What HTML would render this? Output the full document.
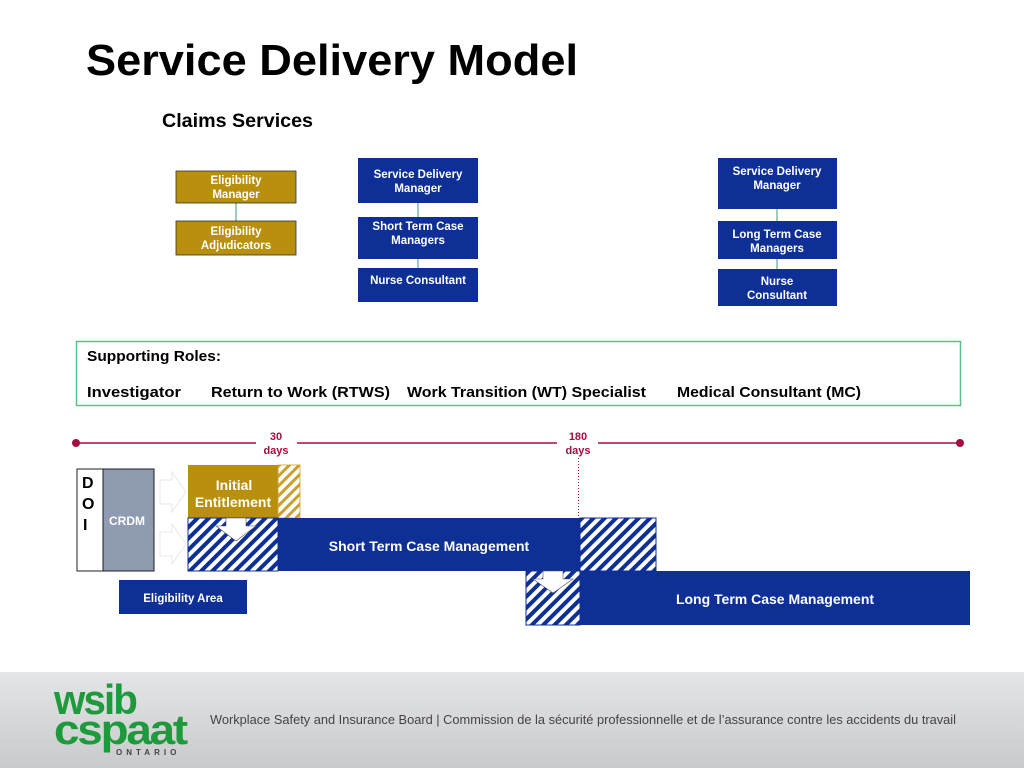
<!DOCTYPE html>
<html><head><meta charset="utf-8"><style>
html,body{margin:0;padding:0;background:#fff;}
svg{display:block;}
text{font-family:"Liberation Sans",sans-serif;}
</style></head><body>
<svg width="1024" height="768" viewBox="0 0 1024 768" xmlns="http://www.w3.org/2000/svg">
<defs>
<pattern id="hb" patternUnits="userSpaceOnUse" width="8" height="8" patternTransform="rotate(45)">
<rect width="8" height="8" fill="#fff"/><rect width="4" height="8" fill="#0d2f96"/>
</pattern>
<pattern id="hg" patternUnits="userSpaceOnUse" width="7" height="7" patternTransform="rotate(45)">
<rect width="7" height="7" fill="#fff"/><rect width="3" height="7" fill="#c9a030"/>
</pattern>
<linearGradient id="ft" x1="0" y1="0" x2="0" y2="1">
<stop offset="0" stop-color="#e4e5e7"/><stop offset="1" stop-color="#c9cacc"/>
</linearGradient>
</defs>
<text x="86" y="75" font-size="44" font-weight="bold" fill="#000" textLength="492" lengthAdjust="spacingAndGlyphs">Service Delivery Model</text>
<text x="162" y="127" font-size="19" font-weight="bold" fill="#000" textLength="151" lengthAdjust="spacingAndGlyphs">Claims Services</text>

<g font-size="11.5" font-weight="bold" fill="#fff" text-anchor="middle">
<line x1="236" y1="203" x2="236" y2="221" stroke="#3a9a7a"/>
<rect x="176" y="171" width="120" height="32" fill="#b8900e" stroke="#333" stroke-width="0.8"/>
<text x="236" y="184">Eligibility</text><text x="236" y="198">Manager</text>
<rect x="176" y="221" width="120" height="34" fill="#b8900e" stroke="#333" stroke-width="0.8"/>
<text x="236" y="235">Eligibility</text><text x="236" y="249">Adjudicators</text>

<line x1="418" y1="203" x2="418" y2="268" stroke="#3a9a7a"/>
<rect x="358" y="158" width="120" height="45" fill="#0d2f96"/>
<text x="418" y="178">Service Delivery</text><text x="418" y="192">Manager</text>
<rect x="358" y="217" width="120" height="42" fill="#0d2f96"/>
<text x="418" y="230">Short Term Case</text><text x="418" y="244">Managers</text>
<rect x="358" y="268" width="120" height="34" fill="#0d2f96"/>
<text x="418" y="284">Nurse Consultant</text>

<line x1="777" y1="209" x2="777" y2="269" stroke="#3a9a7a"/>
<rect x="718" y="158" width="119" height="51" fill="#0d2f96"/>
<text x="777" y="175">Service Delivery</text><text x="777" y="189">Manager</text>
<rect x="718" y="221" width="119" height="38" fill="#0d2f96"/>
<text x="777" y="238">Long Term Case</text><text x="777" y="252">Managers</text>
<rect x="718" y="269" width="119" height="37" fill="#0d2f96"/>
<text x="777" y="285">Nurse</text><text x="777" y="299">Consultant</text>
</g>

<rect x="76.5" y="341.5" width="884" height="64" fill="#fff" stroke="#5cc08a" stroke-width="1.5"/>
<g font-size="15" font-weight="bold" fill="#000">
<text x="87" y="361" textLength="134" lengthAdjust="spacingAndGlyphs">Supporting Roles:</text>
<text x="87" y="397" textLength="94" lengthAdjust="spacingAndGlyphs">Investigator</text>
<text x="211" y="397" textLength="179" lengthAdjust="spacingAndGlyphs">Return to Work (RTWS)</text>
<text x="407" y="397" textLength="239" lengthAdjust="spacingAndGlyphs">Work Transition (WT) Specialist</text>
<text x="677" y="397" textLength="184" lengthAdjust="spacingAndGlyphs">Medical Consultant (MC)</text>
</g>

<g stroke="#a01040" stroke-width="1.5">
<line x1="76" y1="443" x2="256" y2="443"/>
<line x1="297" y1="443" x2="557" y2="443"/>
<line x1="598" y1="443" x2="960" y2="443"/>
</g>
<circle cx="76" cy="443" r="4" fill="#a01040"/>
<circle cx="960" cy="443" r="4" fill="#a01040"/>
<g font-size="11" font-weight="bold" fill="#a01040" text-anchor="middle">
<text x="276" y="440">30</text><text x="276" y="454">days</text>
<text x="578" y="440">180</text><text x="578" y="454">days</text>
</g>
<line x1="578.5" y1="458" x2="578.5" y2="518" stroke="#a01040" stroke-dasharray="1,2"/>

<rect x="77" y="469" width="26" height="102" fill="#fff" stroke="#222"/>
<rect x="103" y="469" width="51" height="102" fill="#8e9bb0" stroke="#222"/>
<g font-size="16" font-weight="bold" fill="#000"><text x="82" y="488">D</text><text x="82" y="509">O</text><text x="83" y="530">I</text></g>
<text x="109" y="525" font-size="12" font-weight="bold" fill="#fff">CRDM</text>

<g fill="none" stroke="#e8e8e8" stroke-width="1">
<path d="M160 480 L172 480 L172 472 L186 492 L172 512 L172 504 L160 504 Z"/>
<path d="M160 532 L172 532 L172 524 L186 544 L172 564 L172 556 L160 556 Z"/>
</g>

<rect x="188" y="465" width="90" height="53" fill="#b8900e"/>
<rect x="278" y="465" width="22" height="53" fill="url(#hg)" stroke="#c9a030" stroke-width="0.8"/>
<g font-size="14" font-weight="bold" fill="#fff" text-anchor="middle"><text x="234" y="490">Initial</text><text x="233" y="507">Entitlement</text></g>

<rect x="188" y="518" width="90" height="53" fill="url(#hb)" stroke="#0d2f96"/>
<rect x="278" y="518" width="302" height="53" fill="#0d2f96"/>
<rect x="580" y="518" width="76" height="53" fill="url(#hb)" stroke="#0d2f96"/>
<text x="429" y="551" font-size="14" font-weight="bold" fill="#fff" text-anchor="middle">Short Term Case Management</text>
<path d="M226 518 L246 518 L246 526 L256 526 L236 541 L216 526 L226 526 Z" fill="#fff" stroke="#555" stroke-width="0.6"/>

<rect x="119" y="580" width="128" height="34" fill="#0d2f96"/>
<text x="183" y="602" font-size="11.5" font-weight="bold" fill="#fff" text-anchor="middle">Eligibility Area</text>

<rect x="526" y="571" width="54" height="54" fill="url(#hb)" stroke="#0d2f96"/>
<rect x="580" y="571" width="390" height="54" fill="#0d2f96"/>
<text x="775" y="604" font-size="14" font-weight="bold" fill="#fff" text-anchor="middle">Long Term Case Management</text>
<path d="M543 571 L563 571 L563 579 L573 579 L553 593 L533 579 L543 579 Z" fill="#fff" stroke="#555" stroke-width="0.6"/>

<rect x="0" y="672" width="1024" height="96" fill="url(#ft)"/>
<g fill="#1e9a3c" font-weight="bold" font-family="Liberation Sans, sans-serif">
<text x="54" y="714" font-size="42" textLength="82" lengthAdjust="spacingAndGlyphs" letter-spacing="-2">wsib</text>
<text x="54" y="744" font-size="42" textLength="132" lengthAdjust="spacingAndGlyphs" letter-spacing="-2">cspaat</text>
</g>
<text x="116" y="755" font-size="8" font-weight="bold" fill="#444" letter-spacing="4">ONTARIO</text>
<text x="210" y="724" font-size="12.5" fill="#444" textLength="746" lengthAdjust="spacingAndGlyphs">Workplace Safety and Insurance Board | Commission de la sécurité professionnelle et de l’assurance contre les accidents du travail</text>
</svg>
</body></html>
